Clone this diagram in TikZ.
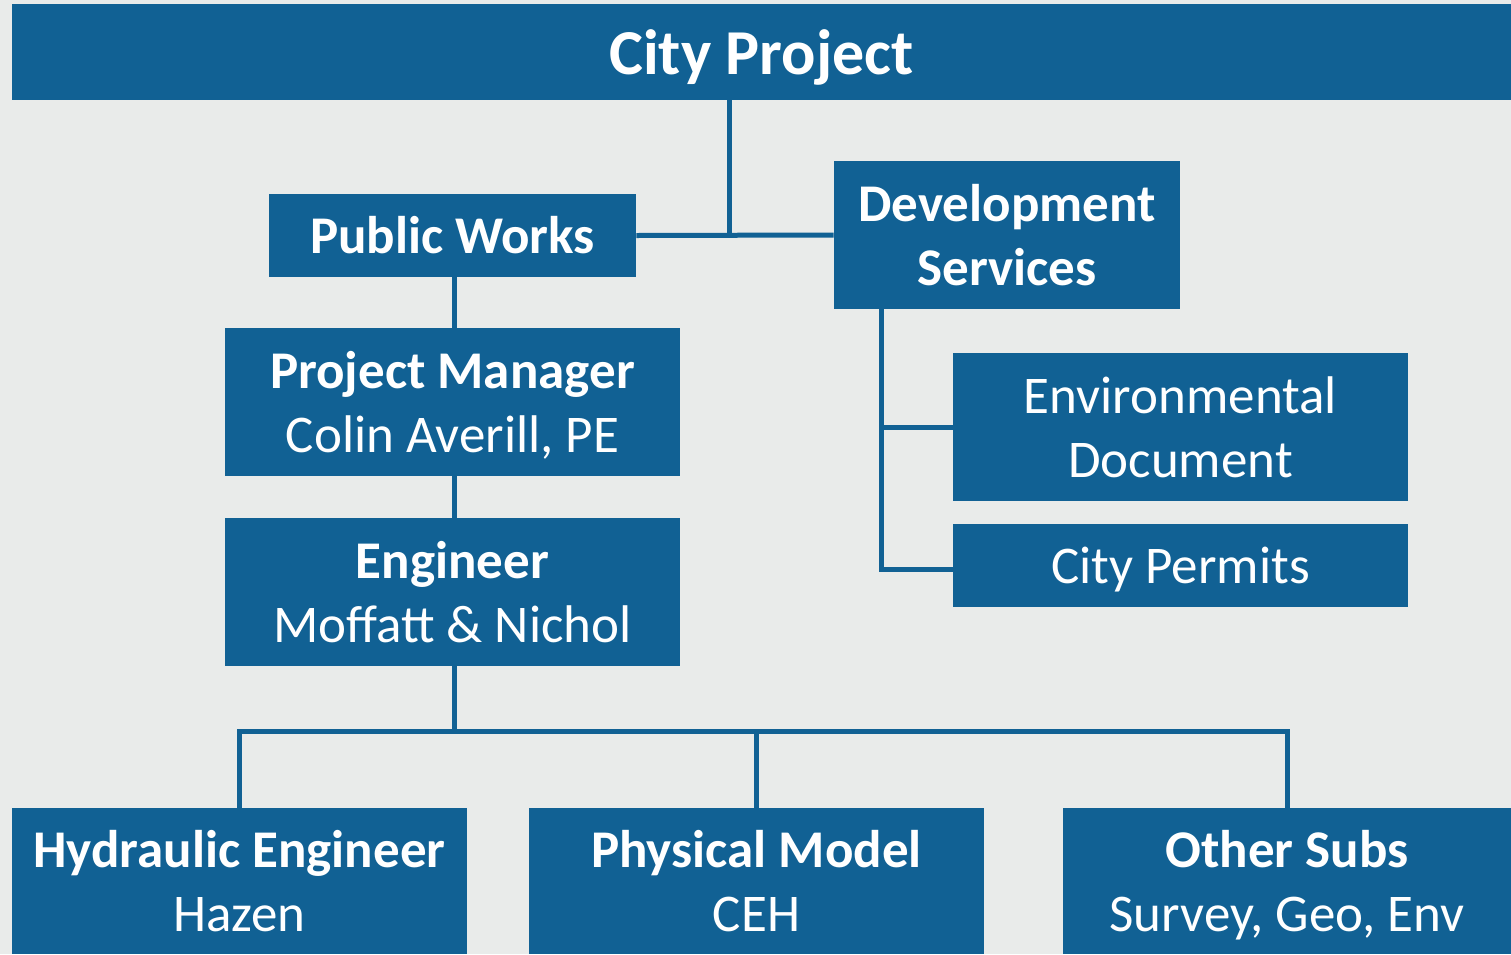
\documentclass[tikz,border=0pt]{standalone}
\usepackage{fontspec}
\setmainfont{Carlito}
\definecolor{bluebox}{RGB}{17,97,148}
\definecolor{bg}{RGB}{233,235,234}
\begin{document}
\begin{tikzpicture}[x=0.5pt,y=-0.5pt,
  box/.style={fill=bluebox, inner sep=0pt},
  txt/.style={text=white, inner sep=0pt, align=center, yshift=-2.8pt,
    font=\fontsize{26.5}{32}\selectfont},
  conn/.style={draw=bluebox, line width=2.5pt, line join=miter}]
\fill[bg] (0,0) rectangle (1511,954);
\useasboundingbox (0,0) rectangle (1511,954);
% boxes
\node[box, minimum width=749.5pt, minimum height=48pt] (cp) at (761.5,52) {};
\node[txt, font=\fontsize{32}{38}\selectfont\bfseries, yshift=-0.6pt] (cp-t) at (cp.center) {\strut City Project};
\node[box, minimum width=183.5pt, minimum height=41.5pt] (pw) at (452.5,235.5) {};
\node[txt] (pw-t) at (pw.center) {\bfseries\strut Public Works};
\node[box, minimum width=173pt, minimum height=74pt] (ds) at (1007,235) {};
\node[txt] (ds-t) at (ds.center) {\bfseries\strut Development\\\bfseries\strut Services};
\node[box, minimum width=227.5pt, minimum height=74pt] (pm) at (452.5,402) {};
\node[txt] (pm-t) at (pm.center) {\bfseries\strut Project Manager\\\strut Colin Averill, PE};
\node[box, minimum width=227.5pt, minimum height=74pt] (eng) at (452.5,592) {};
\node[txt] (eng-t) at (eng.center) {\bfseries\strut Engineer\\\strut Moffatt \& Nichol};
\node[box, minimum width=227.5pt, minimum height=74pt] (ed) at (1180.5,427) {};
\node[txt] (ed-t) at (ed.center) {\strut Environmental\\\strut Document};
\node[box, minimum width=227.5pt, minimum height=41.5pt] (cpm) at (1180.5,565.5) {};
\node[txt] (cpm-t) at (cpm.center) {\strut City Permits};
\node[box, minimum width=227.5pt, minimum height=73pt] (hy) at (239.5,881) {};
\node[txt] (hy-t) at (hy.center) {\bfseries\strut Hydraulic Engineer\\\strut Hazen};
\node[box, minimum width=227.5pt, minimum height=73pt] (ph) at (756.5,881) {};
\node[txt] (ph-t) at (ph.center) {\bfseries\strut Physical Model\\\strut CEH};
\node[box, minimum width=224pt, minimum height=73pt] (os) at (1287,881) {};
\node[txt] (os-t) at (os.center) {\bfseries\strut Other Subs\\\strut Survey, Geo, Env};
% connectors
\coordinate (j1) at (729,235);
\coordinate (d1) at (881,569);
\coordinate (b) at (454,731);
\draw[conn] (cp.south -| j1) -- (j1);
\draw[conn] (pw.east) -- (ds.west);
\draw[conn] (pw.south -| b) -- (pm.north -| b);
\draw[conn] (pm.south -| b) -- (eng.north -| b);
\draw[conn] (ds.south -| d1) -- (d1) -- (d1 -| cpm.west);
\draw[conn] (d1 |- ed.west) -- (ed.west);
\draw[conn] (eng.south -| b) -- (b);
\draw[conn] (hy.north) -- (hy.north |- b) -- (os.north |- b) -- (os.north);
\draw[conn] (ph.north) -- (ph.north |- b);
\end{tikzpicture}
\end{document}
